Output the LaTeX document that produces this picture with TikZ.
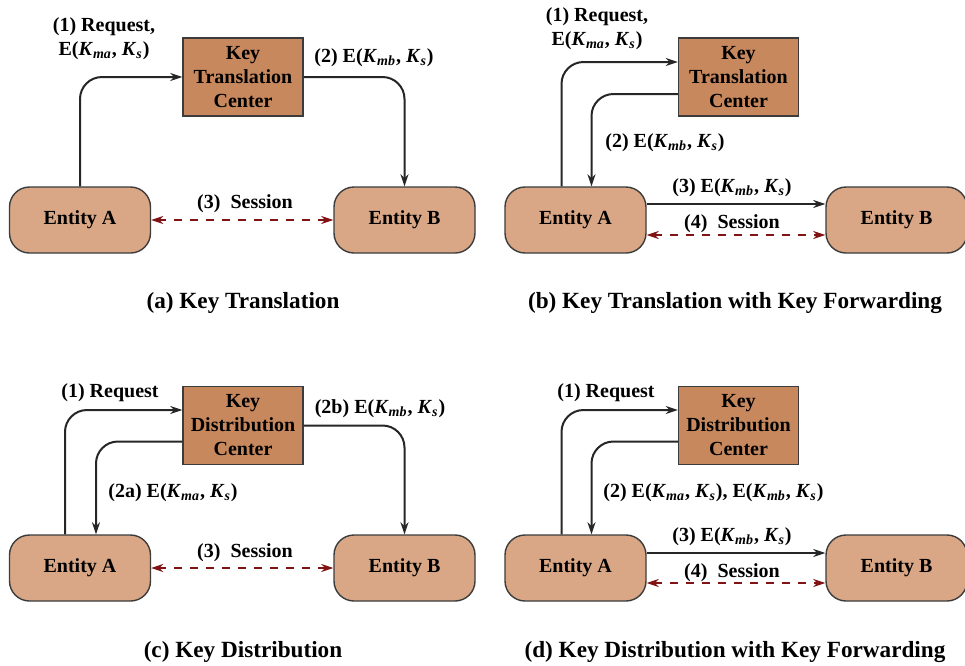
\documentclass[tikz,border=0pt]{standalone}
\usepackage{fontspec}
\setmainfont{Liberation Serif}
\usepackage{tikz}
\usetikzlibrary{arrows.meta, positioning, calc}
\usepackage{xcolor}
\definecolor{kcbrown}{RGB}{200,136,94}
\definecolor{enttan}{RGB}{217,167,134}
\definecolor{edgegray}{RGB}{60,60,60}
\definecolor{sessred}{RGB}{128,20,20}
\newcommand{\kk}[1]{\textit{K}\textsubscript{\textit{#1}}}

\begin{document}
\begin{tikzpicture}[x=0.5pt, y=-0.5pt,
  font=\fontsize{10}{12}\selectfont\bfseries,
  entity/.style={draw=edgegray, fill=enttan, line width=0.7pt, rounded corners=10pt,
    minimum width=70.5pt, minimum height=33pt},
  kcbox/.style={draw=edgegray, fill=kcbrown, line width=0.7pt, align=center,
    minimum width=60pt, minimum height=39pt, inner sep=1pt},
  flow/.style={-{Stealth[length=6pt, width=4pt]}, line width=1pt, black!85, rounded corners=11pt},
  session/.style={{Stealth[length=6pt, width=4pt]}-{Stealth[length=6pt, width=4pt]},
    sessred, line width=1pt, dash pattern=on 4pt off 4pt},
  lbl/.style={align=center, inner sep=1pt},
  subcap/.style={font=\fontsize{11.6}{14}\selectfont\bfseries}]
  \useasboundingbox (0,0) rectangle (965,665);

  % (a) key translation
  \node[entity] (aA) at (80,220) {Entity A};
  \node[entity] (aB) at (404.5,220) {Entity B};
  \node[kcbox] (aK) at (243,77) {Key\\Translation\\Center};
  \draw[flow] (aA.north) |- (aK.west);
  \draw[flow] (aK.east) -| (aB.north);
  \draw[session] (aA.east) -- (aB.west);
  \node[lbl] (aL1) at (104,39) {(1) Request,\\E(\kk{ma}, \kk{s})};
  \node[lbl] (aL2) at (374,58) {(2) E(\kk{mb}, \kk{s})};
  \node[lbl] (aL3) at (245,204) {(3)~~Session};
  \node[subcap] (aC) at (243,303) {(a) Key Translation};

  % (b) key translation with key forwarding
  \node[entity] (bA) at (575.5,220) {Entity A};
  \node[entity] (bB) at (896.5,220) {Entity B};
  \node[kcbox] (bK) at (738.5,77) {Key\\Translation\\Center};
  \draw[flow] ([xshift=-7pt]bA.north) |- ([yshift=7.5pt]bK.west);
  \draw[flow] ([yshift=-8.5pt]bK.west) -| ([xshift=8pt]bA.north);
  \draw[flow, rounded corners=0pt] ([yshift=8pt]bA.east) -- ([yshift=8pt]bB.west);
  \draw[session] ([yshift=-7.5pt]bA.east) -- ([yshift=-7.5pt]bB.west);
  \node[lbl] (bL1) at (597,29) {(1) Request,\\E(\kk{ma}, \kk{s})};
  \node[lbl, anchor=west] (bL2) at (603,143) {(2) E(\kk{mb}, \kk{s})};
  \node[lbl] (bL3) at (732,188) {(3) E(\kk{mb}, \kk{s})};
  \node[lbl] (bL4) at (732,224) {(4)~~Session};
  \node[subcap] (bC) at (735,303) {(b) Key Translation with Key Forwarding};

  % (c) key distribution
  \node[entity] (cA) at (80,568) {Entity A};
  \node[entity] (cB) at (404.5,568) {Entity B};
  \node[kcbox] (cK) at (243,425.5) {Key\\Distribution\\Center};
  \draw[flow] ([xshift=-7.5pt]cA.north) |- ([yshift=7.75pt]cK.west);
  \draw[flow] ([yshift=-8pt]cK.west) -| ([xshift=8pt]cA.north);
  \draw[flow] (cK.east) -| (cB.north);
  \draw[session] (cA.east) -- (cB.west);
  \node[lbl] (cL1) at (110,393) {(1) Request};
  \node[lbl, anchor=west] (cL2) at (106,493) {(2a) E(\kk{ma}, \kk{s})};
  \node[lbl] (cL3) at (380,409) {(2b) E(\kk{mb}, \kk{s})};
  \node[lbl] (cL4) at (245,553) {(3)~~Session};
  \node[subcap] (cC) at (243,652) {(c) Key Distribution};

  % (d) key distribution with key forwarding
  \node[entity] (dA) at (575.5,568) {Entity A};
  \node[entity] (dB) at (896.5,568) {Entity B};
  \node[kcbox] (dK) at (738.5,425.5) {Key\\Distribution\\Center};
  \draw[flow] ([xshift=-7pt]dA.north) |- ([yshift=7.75pt]dK.west);
  \draw[flow] ([yshift=-8pt]dK.west) -| ([xshift=8pt]dA.north);
  \draw[flow, rounded corners=0pt] ([yshift=7.5pt]dA.east) -- ([yshift=7.5pt]dB.west);
  \draw[session] ([yshift=-7.5pt]dA.east) -- ([yshift=-7.5pt]dB.west);
  \node[lbl] (dL1) at (606,393) {(1) Request};
  \node[lbl, anchor=west] (dL2) at (601,493) {(2) E(\kk{ma}, \kk{s}), E(\kk{mb}, \kk{s})};
  \node[lbl] (dL3) at (732,537) {(3) E(\kk{mb}, \kk{s})};
  \node[lbl] (dL4) at (732,573) {(4)~~Session};
  \node[subcap] (dC) at (735,652) {(d) Key Distribution with Key Forwarding};
\end{tikzpicture}
\end{document}
